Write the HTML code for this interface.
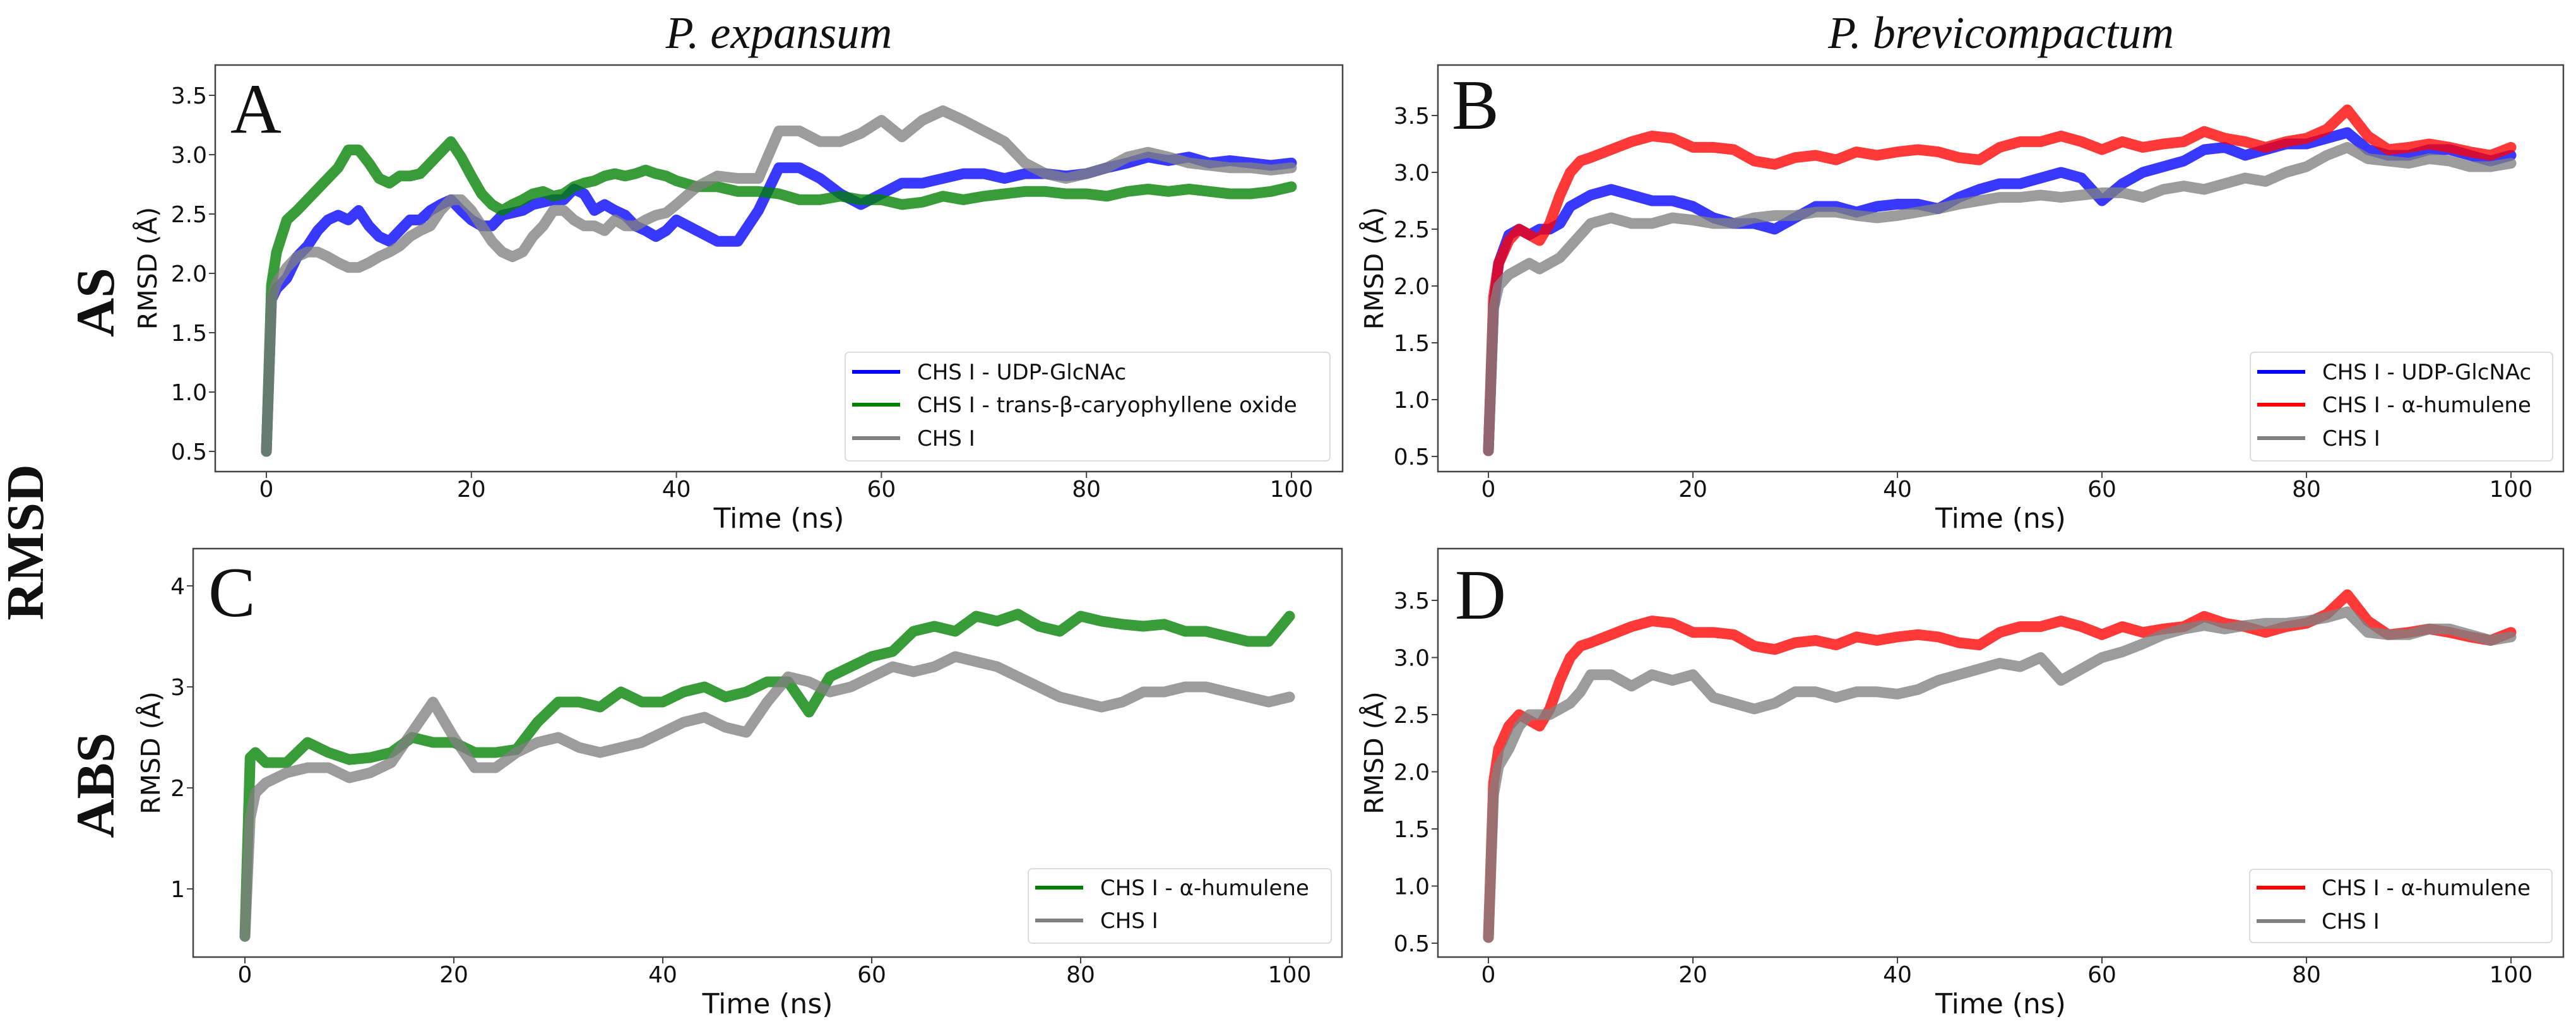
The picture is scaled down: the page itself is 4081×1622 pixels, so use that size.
<!DOCTYPE html>
<html>
<head>
<meta charset="utf-8">
<style>
html,body{margin:0;padding:0;background:#fff;}
svg{display:block;}
text{font-family:"DejaVu Sans","Liberation Sans",sans-serif;fill:#111;}
.serif{font-family:"Liberation Serif",serif;}
</style>
</head>
<body>
<svg id="fig" width="4081" height="1622" viewBox="0 0 4081 1622" xmlns="http://www.w3.org/2000/svg">
  <text class="serif" x="1234" y="76" font-size="72" font-style="italic" text-anchor="middle">P. expansum</text>
  <text class="serif" x="3170" y="76" font-size="72" font-style="italic" text-anchor="middle">P. brevicompactum</text>
  <text class="serif" transform="translate(180,479) rotate(-90)" font-size="86" font-weight="bold" text-anchor="middle">AS</text>
  <text class="serif" transform="translate(68,859) rotate(-90)" font-size="84" font-weight="bold" text-anchor="middle">RMSD</text>
  <text class="serif" transform="translate(180,1244) rotate(-90)" font-size="86" font-weight="bold" text-anchor="middle">ABS</text>
</svg>
<script>
// ---- Data (RMSD in Å vs time in ns) ----
const timesA = [0,0.5,1,2,3,4,5,6,7,8,9,10,11,12,13,14,15,16,17,18,19,20,21,22,23,24,25,26,27,28,29,30,31,32,33,34,35,36,37,38,39,40,42,44,46,48,50,52,54,56,58,60,62,64,66,68,70,72,74,76,78,80,82,84,86,88,90,92,94,96,98,100];
const blueA = [0.5,1.78,1.87,1.96,2.14,2.23,2.36,2.45,2.49,2.45,2.53,2.40,2.31,2.27,2.36,2.45,2.45,2.53,2.58,2.62,2.53,2.45,2.40,2.40,2.49,2.51,2.53,2.58,2.60,2.62,2.62,2.71,2.67,2.53,2.58,2.53,2.49,2.40,2.36,2.31,2.36,2.45,2.36,2.27,2.27,2.53,2.89,2.89,2.80,2.67,2.58,2.67,2.76,2.76,2.80,2.84,2.84,2.80,2.84,2.84,2.82,2.84,2.89,2.93,2.98,2.95,2.98,2.93,2.95,2.93,2.91,2.93];
const greenA = [0.5,1.9,2.18,2.45,2.53,2.62,2.71,2.80,2.89,3.04,3.04,2.93,2.80,2.76,2.82,2.82,2.84,2.93,3.02,3.11,2.98,2.82,2.67,2.58,2.53,2.58,2.62,2.67,2.69,2.65,2.67,2.73,2.76,2.78,2.82,2.84,2.82,2.84,2.87,2.84,2.82,2.78,2.73,2.73,2.69,2.69,2.67,2.62,2.62,2.65,2.62,2.62,2.58,2.60,2.65,2.62,2.65,2.67,2.69,2.69,2.67,2.67,2.65,2.69,2.71,2.69,2.71,2.69,2.67,2.67,2.69,2.73];
const grayA = [0.5,1.78,1.92,2.05,2.14,2.18,2.18,2.14,2.09,2.05,2.05,2.09,2.14,2.18,2.23,2.31,2.36,2.40,2.53,2.62,2.62,2.53,2.40,2.27,2.18,2.14,2.18,2.31,2.40,2.53,2.53,2.45,2.40,2.40,2.36,2.45,2.40,2.40,2.45,2.49,2.51,2.58,2.73,2.82,2.80,2.80,3.20,3.20,3.11,3.11,3.18,3.29,3.15,3.29,3.37,3.29,3.20,3.11,2.93,2.84,2.80,2.84,2.89,2.98,3.02,2.98,2.93,2.91,2.89,2.89,2.87,2.89];

const timesB = [0,0.5,1,2,3,4,5,6,7,8,9,10,12,14,16,18,20,22,24,26,28,30,32,34,36,38,40,42,44,46,48,50,52,54,56,58,60,62,64,66,68,70,72,74,76,78,80,82,84,86,88,90,92,94,96,98,100];
const blueB = [0.55,1.8,2.2,2.45,2.5,2.45,2.5,2.5,2.55,2.7,2.75,2.8,2.85,2.8,2.75,2.75,2.7,2.6,2.55,2.55,2.5,2.6,2.7,2.7,2.65,2.7,2.72,2.72,2.68,2.78,2.85,2.9,2.9,2.95,3.0,2.95,2.75,2.9,3.0,3.05,3.1,3.2,3.22,3.15,3.2,3.25,3.25,3.3,3.35,3.2,3.15,3.15,3.2,3.2,3.15,3.1,3.15];
const redB = [0.55,1.9,2.2,2.4,2.5,2.45,2.4,2.55,2.8,3.0,3.1,3.13,3.2,3.27,3.32,3.30,3.22,3.22,3.20,3.10,3.07,3.13,3.15,3.11,3.18,3.15,3.18,3.20,3.18,3.13,3.11,3.22,3.27,3.27,3.32,3.27,3.20,3.27,3.22,3.25,3.27,3.36,3.30,3.27,3.22,3.27,3.30,3.38,3.55,3.32,3.20,3.22,3.25,3.22,3.18,3.15,3.22];
const grayB = [0.55,1.8,2.0,2.1,2.15,2.2,2.15,2.2,2.25,2.35,2.45,2.55,2.6,2.55,2.55,2.6,2.58,2.55,2.55,2.6,2.62,2.62,2.65,2.65,2.62,2.6,2.62,2.65,2.68,2.72,2.75,2.78,2.78,2.8,2.78,2.8,2.82,2.82,2.78,2.85,2.88,2.85,2.9,2.95,2.92,3.0,3.05,3.15,3.22,3.12,3.1,3.08,3.12,3.1,3.05,3.05,3.08];

const timesC = [0,0.5,1,2,4,6,8,10,12,14,16,18,20,22,24,26,28,30,32,34,36,38,40,42,44,46,48,50,52,54,56,58,60,62,64,66,68,70,72,74,76,78,80,82,84,86,88,90,92,94,96,98,100];
const greenC = [0.53,2.3,2.35,2.25,2.25,2.45,2.35,2.28,2.3,2.35,2.5,2.45,2.45,2.35,2.35,2.38,2.65,2.85,2.85,2.8,2.95,2.85,2.85,2.95,3.0,2.9,2.95,3.05,3.05,2.75,3.1,3.2,3.3,3.35,3.55,3.6,3.55,3.7,3.65,3.72,3.6,3.55,3.7,3.65,3.62,3.6,3.62,3.55,3.55,3.5,3.45,3.45,3.7];
const grayC = [0.53,1.7,1.95,2.05,2.15,2.2,2.2,2.1,2.15,2.25,2.55,2.85,2.5,2.2,2.2,2.35,2.45,2.5,2.4,2.35,2.4,2.45,2.55,2.65,2.7,2.6,2.55,2.85,3.1,3.05,2.95,3.0,3.1,3.2,3.15,3.2,3.3,3.25,3.2,3.1,3.0,2.9,2.85,2.8,2.85,2.95,2.95,3.0,3.0,2.95,2.9,2.85,2.9];

const timesD = [0,0.5,1,2,3,4,5,6,7,8,9,10,12,14,16,18,20,22,24,26,28,30,32,34,36,38,40,42,44,46,48,50,52,54,56,58,60,62,64,66,68,70,72,74,76,78,80,82,84,86,88,90,92,94,96,98,100];
const redD = [0.55,1.9,2.2,2.4,2.5,2.45,2.4,2.55,2.8,3.0,3.1,3.13,3.2,3.27,3.32,3.30,3.22,3.22,3.20,3.10,3.07,3.13,3.15,3.11,3.18,3.15,3.18,3.20,3.18,3.13,3.11,3.22,3.27,3.27,3.32,3.27,3.20,3.27,3.22,3.25,3.27,3.36,3.30,3.27,3.22,3.27,3.30,3.38,3.55,3.32,3.20,3.22,3.25,3.22,3.18,3.15,3.22];
const grayD = [0.55,1.8,2.05,2.2,2.4,2.5,2.5,2.5,2.55,2.6,2.7,2.85,2.85,2.75,2.85,2.8,2.85,2.65,2.6,2.55,2.6,2.7,2.7,2.65,2.7,2.7,2.68,2.72,2.8,2.85,2.9,2.95,2.92,3.0,2.8,2.9,3.0,3.05,3.12,3.2,3.25,3.28,3.25,3.28,3.3,3.3,3.32,3.35,3.4,3.22,3.2,3.2,3.25,3.25,3.2,3.15,3.18];

const xTicks = [0,20,40,60,80,100];
const yTicksHalf = [0.5,1.0,1.5,2.0,2.5,3.0,3.5];
const yTickLabelsHalf = ["0.5","1.0","1.5","2.0","2.5","3.0","3.5"];
const yTicksC = [1,2,3,4];
const yTickLabelsC = ["1","2","3","4"];

const legendA = ["CHS I - UDP-GlcNAc","CHS I - trans-β-caryophyllene oxide","CHS I"];
const legendB = ["CHS I - UDP-GlcNAc","CHS I - α-humulene","CHS I"];
const legendC = ["CHS I - α-humulene","CHS I"];
const legendD = ["CHS I - α-humulene","CHS I"];

// ---- Rendering ----
const NS = "http://www.w3.org/2000/svg";
const svg = document.getElementById("fig");
function mk(tag, attrs, parent){
  const e = document.createElementNS(NS, tag);
  for (const k in attrs) e.setAttribute(k, attrs[k]);
  (parent||svg).appendChild(e);
  return e;
}

const panels = [
  {id:"a", label:"A", left:341, right:2127, top:103, bottom:747, x0:422, xs:16.24, yRef:3.5, yRefPx:151, ys:188,
   yt:yTicksHalf, ytl:yTickLabelsHalf, ytitleX:233, labelX:365, labelY:210,
   times:timesA, series:[[blueA,"#0000ff","blue"],[greenA,"#008000","green"],[grayA,"#808080","gray"]],
   legend:legendA, leg:{l:1339,r:2107,t:558,b:730,rows:[589,641,694],lx1:1350,lx2:1426,tx:1453}},
  {id:"b", label:"B", left:2278, right:4061, top:103, bottom:747, x0:2358, xs:16.2, yRef:3.5, yRefPx:183, ys:180,
   yt:yTicksHalf, ytl:yTickLabelsHalf, ytitleX:2176, labelX:2300, labelY:204,
   times:timesB, series:[[blueB,"#0000ff","blue"],[redB,"#ff0000","red"],[grayB,"#808080","gray"]],
   legend:legendB, leg:{l:3565,r:4044,t:558,b:730,rows:[589,641,694],lx1:3576,lx2:3652,tx:3679}},
  {id:"c", label:"C", left:306, right:2126, top:869, bottom:1516, x0:388, xs:16.55, yRef:4, yRefPx:928, ys:160,
   yt:yTicksC, ytl:yTickLabelsC, ytitleX:238, labelX:330, labelY:976,
   times:timesC, series:[[greenC,"#008000","green"],[grayC,"#808080","gray"]],
   legend:legendC, leg:{l:1629,r:2109,t:1376,b:1494,rows:[1406,1458],lx1:1640,lx2:1716,tx:1743}},
  {id:"d", label:"D", left:2278, right:4061, top:869, bottom:1516, x0:2358, xs:16.2, yRef:3.5, yRefPx:951, ys:181,
   yt:yTicksHalf, ytl:yTickLabelsHalf, ytitleX:2176, labelX:2305, labelY:980,
   times:timesD, series:[[redD,"#ff0000","red"],[grayD,"#808080","gray"]],
   legend:legendD, leg:{l:3564,r:4043,t:1377,b:1493,rows:[1406,1459],lx1:3575,lx2:3652,tx:3678}}
];

panels.forEach(p => {
  const xAt = t => p.x0 + p.xs * t;
  const yAt = v => p.yRefPx + (p.yRef - v) * p.ys;
  const g = mk("g", {});
  
  
  const clipId = "clip-" + p.id;
  const cp = mk("clipPath", {id: clipId}, g);
  mk("rect", {x:p.left, y:p.top, width:p.right-p.left, height:p.bottom-p.top}, cp);

  const sg = mk("g", {"clip-path":"url(#"+clipId+")"}, g);
  p.series.forEach(s => {
    const vals = s[0];
    let d = "";
    for (let i = 0; i < vals.length; i++) {
      d += (i ? "L" : "M") + xAt(p.times[i]).toFixed(1) + "," + yAt(vals[i]).toFixed(1);
    }
    const path = mk("path", {d:d, fill:"none", stroke:s[1], "stroke-width":17, "stroke-linejoin":"round", "stroke-linecap":"round", opacity:0.78}, sg);
    
    
  });

  const fr = mk("rect", {x:p.left, y:p.top, width:p.right-p.left, height:p.bottom-p.top, fill:"none", stroke:"#444", "stroke-width":2.5}, g);
  
  

  xTicks.forEach(t => {
    const x = xAt(t);
    mk("line", {x1:x, x2:x, y1:p.bottom, y2:p.bottom+10, stroke:"#444", "stroke-width":2}, g);
    const tl = mk("text", {x:x, y:p.bottom+40, "font-size":36, "text-anchor":"middle"}, g);
    tl.textContent = String(t);
    
    
  });
  p.yt.forEach((v, i) => {
    const y = yAt(v);
    mk("line", {x1:p.left-10, x2:p.left, y1:y, y2:y, stroke:"#444", "stroke-width":2}, g);
    const tl = mk("text", {x:p.left-13, y:y+13, "font-size":36, "text-anchor":"end"}, g);
    tl.textContent = p.ytl[i];
    
    
  });
  const xt = mk("text", {x:(p.left+p.right)/2, y:p.bottom+89, "font-size":44, "text-anchor":"middle"}, g);
  xt.textContent = "Time (ns)";
  
  
  const yty = (p.top + p.bottom) / 2;
  const yt = mk("text", {transform:"translate(" + (p.ytitleX+15) + "," + yty + ") rotate(-90)", "font-size":41, "text-anchor":"middle"}, g);
  yt.textContent = "RMSD (Å)";
  
  

  const pl = mk("text", {x:p.labelX, y:p.labelY, "font-size":112, "class":"serif"}, g);
  pl.textContent = p.label;
  
  

  const L = p.leg;
  const lg = mk("g", {}, g);
  
  
  mk("rect", {x:L.l, y:L.t, width:L.r-L.l, height:L.b-L.t, rx:6, fill:"#fff", "fill-opacity":0.85, stroke:"#ddd", "stroke-width":2}, lg);
  p.legend.forEach((name, i) => {
    const y = L.rows[i];
    const ln = mk("line", {x1:L.lx1, x2:L.lx2, y1:y, y2:y, stroke:p.series[i][1], "stroke-width":6}, lg);
    
    
    const tx = mk("text", {x:L.tx, y:y+12, "font-size":34}, lg);
    tx.textContent = name;
    
    
  });
});
</script>
</body>
</html>
